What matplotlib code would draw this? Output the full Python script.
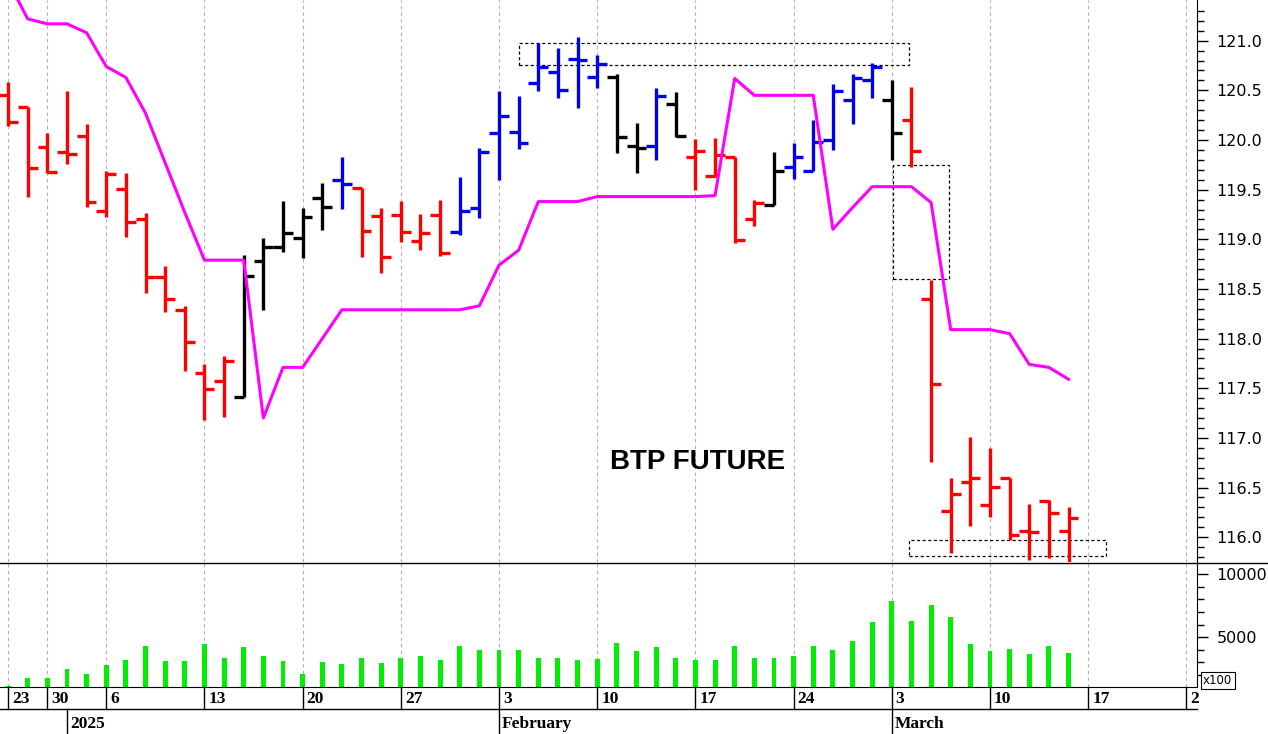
import matplotlib.pyplot as plt
from matplotlib.transforms import blended_transform_factory
from matplotlib.patches import Rectangle

# daily OHLC, one bar per trading day (index 0 = Dec 23, 2024)
opens = [120.45, 120.33, 119.93, 119.88, 120.04, 119.28, 119.51, 119.20, 118.62, 118.29,
         117.65, 117.57, 117.41, 118.78, 118.92, 119.01, 119.42, 119.60, 119.52, 119.23,
         119.24, 118.98, 119.24, 119.07, 119.32, 120.07, 120.08, 120.57, 120.68, 120.82,
         120.63, 120.63, 119.94, 119.94, 120.36, 119.83, 119.64, 119.83, 119.20, 119.35,
         119.73, 119.69, 120.00, 120.40, 120.60, 120.40, 120.20, 118.40, 116.26, 116.56,
         116.32, 116.60, 116.06, 116.36, 116.06]
highs = [120.58, 120.33, 120.07, 120.49, 120.16, 119.69, 119.67, 119.26, 118.73, 118.33,
         117.74, 117.82, 118.84, 119.01, 119.39, 119.32, 119.57, 119.83, 119.52, 119.32,
         119.39, 119.25, 119.40, 119.63, 119.92, 120.49, 120.44, 120.98, 120.93, 121.04,
         120.86, 120.66, 120.17, 120.52, 120.48, 120.01, 120.02, 119.83, 119.40, 119.88,
         119.97, 120.20, 120.56, 120.66, 120.78, 120.60, 120.53, 118.59, 116.60, 117.01,
         116.90, 116.60, 116.33, 116.37, 116.30]
lows = [120.14, 119.43, 119.67, 119.76, 119.33, 119.22, 119.02, 118.46, 118.27, 117.67,
        117.18, 117.21, 117.41, 118.29, 118.87, 118.81, 119.09, 119.31, 118.82, 118.66,
        118.97, 118.89, 118.83, 119.04, 119.21, 119.60, 119.91, 120.49, 120.42, 120.32,
        120.52, 119.87, 119.67, 119.80, 120.03, 119.50, 119.63, 118.96, 119.13, 119.35,
        119.61, 119.69, 119.90, 120.16, 120.42, 119.80, 119.73, 116.76, 115.84, 116.11,
        116.20, 115.97, 115.77, 115.79, 115.75]
closes = [120.18, 119.72, 119.68, 119.86, 119.38, 119.66, 119.17, 118.62, 118.40, 117.97,
          117.49, 117.77, 118.63, 118.92, 119.06, 119.22, 119.33, 119.56, 119.08, 118.82,
          119.07, 119.06, 118.86, 119.28, 119.88, 120.24, 119.97, 120.74, 120.50, 120.81,
          120.77, 120.03, 119.92, 120.44, 120.04, 119.89, 119.85, 118.99, 119.37, 119.69,
          119.83, 119.98, 120.49, 120.62, 120.74, 120.07, 119.89, 117.54, 116.43, 116.60,
          116.51, 116.02, 116.05, 116.24, 116.19]
# bar colour code: r = red, k = black, b = blue
bar_colors = ("rrrrrrrrrrrr" "kkkkk" "b" "rrrrr" "bbbbbbbb" "kk" "b" "k"
              "rrrr" "k" "bbbbb" "k" "rrrrrrrrr")
stop_line = [121.6, 121.22, 121.17, 121.17, 121.08, 120.74, 120.63, 120.27, 119.77, 119.27,
             118.79, 118.79, 118.79, 117.20, 117.71, 117.71, 118.00, 118.29, 118.29, 118.29,
             118.29, 118.29, 118.29, 118.29, 118.33, 118.74, 118.89, 119.38, 119.38, 119.38,
             119.43, 119.43, 119.43, 119.43, 119.43, 119.43, 119.44, 120.62, 120.45, 120.45,
             120.45, 120.45, 119.10, 119.32, 119.53, 119.53, 119.53, 119.37, 118.09, 118.09,
             118.09, 118.05, 117.74, 117.71, 117.59]
volumes = [1150, 1740, 1740, 2440, 2040, 2760, 3180, 4330, 3100, 3100,
           4440, 3320, 4200, 3530, 3100, 2060, 3000, 2860, 3320, 2940,
           3320, 3530, 3180, 4330, 4010, 4010, 4010, 3320, 3320, 3180,
           3240, 4570, 3900, 4200, 3320, 3180, 3180, 4330, 3320, 3320,
           3530, 4330, 4010, 4710, 6200, 7860, 6280, 7570, 6630, 4440,
           3880, 4090, 3640, 4330, 3740]
day_ticks = [0, 2, 5, 10, 15, 20, 25, 30, 35, 40, 45, 50, 55, 60]
day_labels = ["23", "30", "6", "13", "20", "27", "3", "10", "17", "24", "3", "10", "17", "2"]
period_ticks = [3, 25, 45]
period_labels = ["2025", "February", "March"]

colmap = {"r": "#ff0000", "k": "#000000", "b": "#0000ee"}
XMIN, XMAX = -0.41, 60.54

fig = plt.figure(figsize=(12.68, 7.34), dpi=100)
ax = fig.add_axes([0, 1 - 562 / 734, 1197 / 1268, 562 / 734])
axv = fig.add_axes([0, 1 - 687 / 734, 1197 / 1268, 124 / 734])

for a in (ax, axv):
    a.set_xlim(XMIN, XMAX)
    for s in ("left", "top"):
        a.spines[s].set_visible(False)
    a.yaxis.tick_right()
    a.set_xticks([])
    for t in day_ticks:
        a.axvline(t, color="#b0b0b0", lw=0.8, ls=(0, (3, 3)), zorder=0)
    a.tick_params(axis="y", which="major", length=8, width=1, labelsize=11.5, pad=6)
    a.tick_params(axis="y", which="minor", length=5, width=1)

# OHLC bars
for i in range(len(opens)):
    c = colmap[bar_colors[i]]
    ax.plot([i, i], [lows[i], highs[i]], color=c, lw=2.4, solid_capstyle="butt")
    ax.plot([i - 0.5, i], [opens[i], opens[i]], color=c, lw=2.4, solid_capstyle="butt")
    ax.plot([i, i + 0.5], [closes[i], closes[i]], color=c, lw=2.4, solid_capstyle="butt")
ax.plot(range(len(stop_line)), stop_line, color="#ff00ff", lw=2.2)

ax.set_ylim(115.75, 121.41)
ax.set_yticks([116 + 0.5 * k for k in range(11)])
ax.set_yticklabels([f"{116 + 0.5 * k:.1f}" for k in range(11)])
ax.set_yticks([115.8 + 0.1 * k for k in range(56)], minor=True)
ax.spines["bottom"].set_visible(False)

# annotation boxes
for x0, x1, y0, y1 in [(26.0, 45.9, 120.76, 120.98), (45.06, 47.9, 118.60, 119.75),
                       (45.9, 55.9, 115.81, 115.97)]:
    ax.add_patch(Rectangle((x0, y0), x1 - x0, y1 - y0, fill=False, ec="black",
                           lw=0.9, ls=(0, (2.5, 2))))
ax.text(35.1, 116.76, "BTP FUTURE", fontsize=20, fontweight="bold",
        family="Liberation Sans", ha="center", va="center")

# volume
axv.bar(range(len(volumes)), volumes, width=0.25, color="#00ee00")
axv.set_ylim(1043, 10900)
axv.set_yticks([5000, 10000])
axv.set_yticks(range(2000, 11000, 1000), minor=True)
fig.text(1203 / 1268, 1 - 687 / 734, "x100", fontsize=8.5, ha="left", va="bottom",
         bbox=dict(boxstyle="square,pad=0.2", fc="white", ec="black", lw=0.8))
fig.add_artist(plt.Line2D([0, 1], [1 - 562.5 / 734] * 2, color="black", lw=1))

# date axis rows
tr = blended_transform_factory(axv.transData, fig.transFigure)
row1, row2 = 1 - 687 / 734, 1 - 709 / 734
fig.add_artist(plt.Line2D([0, 1197 / 1268], [row2, row2], color="black", lw=1))
for t, lab in zip(day_ticks, day_labels):
    fig.add_artist(plt.Line2D([t, t], [row2, row1], color="black", lw=1, transform=tr))
    fig.text(t + 0.2, (row1 + row2) / 2 - 0.002, lab, transform=tr, fontsize=12.5,
             fontweight="bold", family="Liberation Serif", va="center", ha="left")
for t, lab in zip(period_ticks, period_labels):
    fig.add_artist(plt.Line2D([t, t], [0, row2], color="black", lw=1, transform=tr))
    fig.text(t + 0.15, row2 / 2 - 0.004, lab, transform=tr, fontsize=12.5,
             fontweight="bold", family="Liberation Serif", va="center", ha="left")

fig.savefig("out.png", dpi=100)
